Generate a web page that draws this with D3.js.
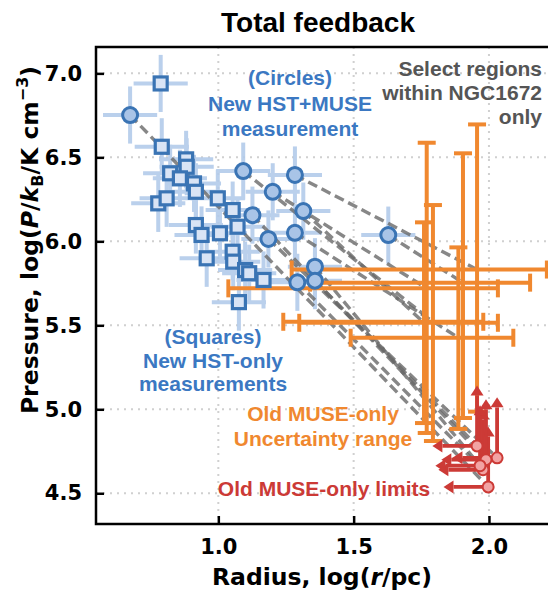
<!DOCTYPE html>
<html>
<head>
<meta charset="utf-8">
<script src="https://cdn.jsdelivr.net/npm/d3@7"></script>
<style>
  body { margin: 0; background: #fff; }
  svg { display: block; }
</style>
</head>
<body>
<div id="chart"></div>
<script>
// ticks
const xTicks = [1.0, 1.5, 2.0];
const yTicks = [4.5, 5.0, 5.5, 6.0, 6.5, 7.0];

// New HST-only measurements (squares)
const sqX = [0.787, 0.791, 0.881, 0.883, 0.822, 0.858, 0.910, 0.917, 0.778, 0.809, 0.998, 1.053,
             0.917, 0.938, 1.006, 1.071, 0.957, 1.053, 1.055, 1.099, 1.114, 1.167, 1.076];
const sqY = [6.940, 6.563, 6.488, 6.444, 6.405, 6.375, 6.345, 6.295, 6.226, 6.256, 6.256, 6.186,
             6.097, 6.038, 6.048, 6.087, 5.899, 5.938, 5.879, 5.829, 5.810, 5.770, 5.638];

// New HST+MUSE measurements (circles) and the old value each one is tied to
const ciX = [0.674, 1.092, 1.283, 1.201, 1.314, 1.126, 1.283, 1.185, 1.357, 1.292, 1.357, 1.628];
const ciY = [6.752, 6.418, 6.395, 6.295, 6.180, 6.156, 6.051, 6.014, 5.849, 5.756, 5.766, 6.037];
const ciLink = ["r0", "o3", "o0", "o2", "o4", "r4", "o5", "r2", "r5", "r3", "r1", "o1"];

// error sizes of the new measurements (dex)
const newXErr = 0.1;
const newYErr = 0.17;

// Old MUSE-only uncertainty ranges (orange)
const oldX   = [1.956, 1.904, 1.770, 1.793, 1.760, 1.887];
const oldY   = [5.832, 5.754, 5.720, 5.521, 5.515, 5.426];
const oldXlo = [1.271, 1.339, 1.037, 1.240, 1.299, 1.489];
const oldXhi = [2.214, 2.152, 2.033, 1.979, 2.033, 2.090];
const oldYlo = [4.986, 4.948, 4.859, 4.811, 4.918, 4.883];
const oldYhi = [6.696, 6.524, 6.587, 6.216, 6.113, 5.964];

// Old MUSE-only limits (red)
const limX = [1.997, 1.956, 2.030, 1.978, 1.989, 1.967];
const limY = [4.538, 4.782, 4.711, 4.640, 4.700, 4.664];
const limLeft = 0.165;
const limUp = 0.36;

const W = 548, H = 592;
const frame = {left: 96, top: 47, right: 556, bottom: 524};

const x = d3.scaleLinear().domain([0.548, 2.244]).range([frame.left, 555]);
const y = d3.scaleLinear().domain([4.317, 7.157]).range([frame.bottom, frame.top]);

const blue = "#3a74b4", blueFill = "#a9c4e7", sqFill = "#d9e4f5", errBlue = "#b3cbea";
const orange = "#f0882f", red = "#cc3a36";

const svg = d3.select("#chart").append("svg")
  .attr("width", W).attr("height", H);

const defs = svg.append("defs");
defs.append("clipPath").attr("id", "clip")
  .append("rect")
  .attr("x", frame.left).attr("y", frame.top)
  .attr("width", frame.right - frame.left).attr("height", frame.bottom - frame.top);

// grid
const grid = svg.append("g").attr("clip-path", "url(#clip)");
grid.selectAll(".gx").data(xTicks).enter().append("line")
  .attr("x1", d => x(d)).attr("x2", d => x(d))
  .attr("y1", frame.top).attr("y2", frame.bottom)
  .attr("stroke", "#d0d0d0").attr("stroke-width", 2).attr("stroke-dasharray", "2,5");
grid.selectAll(".gy").data(yTicks).enter().append("line")
  .attr("y1", d => y(d)).attr("y2", d => y(d))
  .attr("x1", frame.left).attr("x2", frame.right)
  .attr("stroke", "#d0d0d0").attr("stroke-width", 2).attr("stroke-dasharray", "2,5");

const plot = svg.append("g").attr("clip-path", "url(#clip)");

// blue error bars
const newPts = sqX.map((v, i) => ({x: v, y: sqY[i]}))
  .concat(ciX.map((v, i) => ({x: v, y: ciY[i]})));
const eb = plot.append("g").attr("stroke", errBlue).attr("stroke-width", 4).attr("opacity", 0.9);
eb.selectAll(".ex").data(newPts).enter().append("line")
  .attr("x1", d => x(d.x - newXErr)).attr("x2", d => x(d.x + newXErr))
  .attr("y1", d => y(d.y)).attr("y2", d => y(d.y));
eb.selectAll(".ey").data(newPts).enter().append("line")
  .attr("x1", d => x(d.x)).attr("x2", d => x(d.x))
  .attr("y1", d => y(d.y - newYErr)).attr("y2", d => y(d.y + newYErr));

// dashed links from new circles to the old values
const links = ciX.map((v, i) => {
  const k = ciLink[i], j = +k.slice(1);
  const t = k[0] === "o" ? {x: oldX[j], y: oldY[j]} : {x: limX[j], y: limY[j]};
  return {x1: v, y1: ciY[i], x2: t.x, y2: t.y};
});
plot.append("g").selectAll("line").data(links).enter().append("line")
  .attr("x1", d => x(d.x1)).attr("y1", d => y(d.y1))
  .attr("x2", d => x(d.x2)).attr("y2", d => y(d.y2))
  .attr("stroke", "#6a6a6a").attr("stroke-width", 3.4)
  .attr("stroke-dasharray", "10,5").attr("opacity", 0.8);

// orange uncertainty ranges
const old = oldX.map((v, i) => ({x: v, y: oldY[i], xlo: oldXlo[i], xhi: oldXhi[i], ylo: oldYlo[i], yhi: oldYhi[i]}));
const og = plot.append("g").attr("stroke", orange).attr("stroke-width", 4);
const cap = 9;
old.forEach(d => {
  og.append("line").attr("x1", x(d.xlo)).attr("x2", x(d.xhi)).attr("y1", y(d.y)).attr("y2", y(d.y));
  og.append("line").attr("x1", x(d.x)).attr("x2", x(d.x)).attr("y1", y(d.ylo)).attr("y2", y(d.yhi));
  [d.xlo, d.xhi].forEach(v => og.append("line")
    .attr("x1", x(v)).attr("x2", x(v)).attr("y1", y(d.y) - cap).attr("y2", y(d.y) + cap));
  [d.ylo, d.yhi].forEach(v => og.append("line")
    .attr("y1", y(v)).attr("y2", y(v)).attr("x1", x(d.x) - cap).attr("x2", x(d.x) + cap));
});

// red limits with arrows
const rg = plot.append("g");
const lims = limX.map((v, i) => ({x: v, y: limY[i]}));
function arrow(x1, y1, x2, y2) {
  const ang = Math.atan2(y2 - y1, x2 - x1), hl = 10, hw = 6.5;
  const bx = x2 - hl * Math.cos(ang), by = y2 - hl * Math.sin(ang);
  rg.append("line").attr("x1", x1).attr("y1", y1).attr("x2", bx).attr("y2", by)
    .attr("stroke", red).attr("stroke-width", 3.8);
  const px = -Math.sin(ang) * hw, py = Math.cos(ang) * hw;
  rg.append("path")
    .attr("d", `M${x2},${y2}L${bx + px},${by + py}L${bx - px},${by - py}Z`)
    .attr("fill", red);
}
lims.forEach(d => {
  arrow(x(d.x), y(d.y), x(d.x - limLeft), y(d.y));
  arrow(x(d.x), y(d.y), x(d.x), y(d.y + limUp));
});
rg.selectAll("circle").data(lims).enter().append("circle")
  .attr("cx", d => x(d.x)).attr("cy", d => y(d.y)).attr("r", 5.5)
  .attr("fill", "#f2a3a3").attr("stroke", red).attr("stroke-width", 2);

// squares
const sq = 13;
plot.append("g").selectAll("rect").data(sqX).enter().append("rect")
  .attr("x", (d, i) => x(d) - sq / 2).attr("y", (d, i) => y(sqY[i]) - sq / 2)
  .attr("width", sq).attr("height", sq)
  .attr("fill", sqFill).attr("stroke", blue).attr("stroke-width", 3.2);

// circles
plot.append("g").selectAll("circle").data(ciX).enter().append("circle")
  .attr("cx", d => x(d)).attr("cy", (d, i) => y(ciY[i])).attr("r", 7.5)
  .attr("fill", blueFill).attr("stroke", blue).attr("stroke-width", 3);

// axes
const tickFont = "'DejaVu Sans', sans-serif";
const xAxis = svg.append("g").attr("transform", `translate(0,${frame.bottom})`)
  .call(d3.axisBottom(x).tickValues(xTicks).tickFormat(d3.format(".1f")).tickSizeInner(-8).tickSizeOuter(0).tickPadding(15));
const yAxis = svg.append("g").attr("transform", `translate(${frame.left},0)`)
  .call(d3.axisLeft(y).tickValues(yTicks).tickFormat(d3.format(".1f")).tickSizeInner(-8).tickSizeOuter(0).tickPadding(14));
[xAxis, yAxis].forEach(a => {
  a.select(".domain").remove();
  a.selectAll("line").attr("stroke", "#000").attr("stroke-width", 2.5);
  a.selectAll("text").attr("font-family", tickFont).attr("font-weight", "bold")
    .attr("font-size", 21).attr("fill", "#000");
});

// frame (right side lies outside the picture)
svg.append("rect")
  .attr("x", frame.left).attr("y", frame.top)
  .attr("width", frame.right - frame.left).attr("height", frame.bottom - frame.top)
  .attr("fill", "none").attr("stroke", "#000").attr("stroke-width", 2.5);

// axis labels
const xl = svg.append("text").attr("x", 322).attr("y", 585)
  .attr("text-anchor", "middle").attr("font-family", tickFont)
  .attr("font-weight", "bold").attr("font-size", 23.5);
xl.append("tspan").text("Radius, log(");
xl.append("tspan").attr("font-style", "italic").text("r");
xl.append("tspan").text("/pc)");

const yl = svg.append("text").attr("transform", "translate(38,240) rotate(-90)")
  .attr("text-anchor", "middle").attr("font-family", tickFont)
  .attr("font-weight", "bold").attr("font-size", 23.5);
yl.append("tspan").text("Pressure, log(");
yl.append("tspan").attr("font-style", "italic").text("P");
yl.append("tspan").text("/");
yl.append("tspan").attr("font-style", "italic").text("k");
yl.append("tspan").attr("font-size", 16).attr("dy", 5).text("B");
yl.append("tspan").attr("dy", -5).text("/K cm");
yl.append("tspan").attr("font-size", 16).attr("dy", -10).text("−3");
yl.append("tspan").attr("dy", 10).text(")");

// title
svg.append("text").attr("x", 318).attr("y", 32)
  .attr("text-anchor", "middle").attr("font-family", "'Liberation Sans', Arial, sans-serif")
  .attr("font-weight", "bold").attr("font-size", 28).text("Total feedback");

// annotations
const annFont = "'Liberation Sans', Arial, sans-serif";
function note(lines, px, py, color, anchor, gap) {
  const t = svg.append("text").attr("font-family", annFont).attr("font-weight", "bold")
    .attr("font-size", 21).attr("fill", color).attr("text-anchor", anchor);
  lines.forEach((s, i) => t.append("tspan").attr("x", px).attr("y", py + i * gap).text(s));
}
note(["(Circles)", "New HST+MUSE", "measurement"], 290, 85, "#3b78c2", "middle", 25.5);
note(["Select regions", "within NGC1672", "only"], 542, 76, "#555555", "end", 24);
note(["(Squares)", "New HST-only", "measurements"], 213, 344, "#3b78c2", "middle", 23.7);
note(["Old MUSE-only", "Uncertainty range"], 323, 421, orange, "middle", 25);
note(["Old MUSE-only limits"], 324, 496, red, "middle", 0);
</script>
</body>
</html>
